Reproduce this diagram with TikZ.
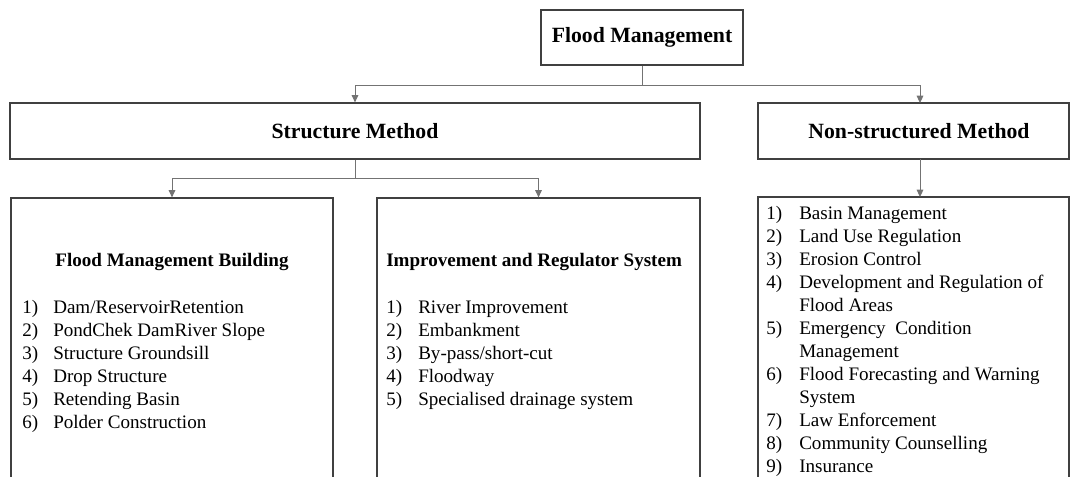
\documentclass[tikz,border=0pt]{standalone}
\usepackage{fontspec}
\setmainfont{Liberation Serif}
\usetikzlibrary{arrows.meta}
\newcommand{\hdfont}{\fontsize{16.3}{19.5}\selectfont\bfseries}
\newcommand{\bdfont}{\fontsize{14.3}{17.25}\selectfont}
\begin{document}
\begin{tikzpicture}[x=0.75pt,y=-0.75pt,
  box/.style={draw=black!75,line width=0.9pt,inner sep=0pt},
  conn/.style={draw=black!55,line width=0.75pt},
  arr/.style={conn,-{Triangle[length=5.5pt,width=5pt]}},
  txt/.style={inner sep=0pt}]
\path[use as bounding box,clip] (0,0) rectangle (1070,476);
% boxes
\node[box,minimum width=151.5pt,minimum height=41.25pt] (fm) at (642,37.5) {\hdfont Flood Management};
\node[box,minimum width=517.5pt,minimum height=42pt] (sm) at (355,131) {\hdfont Structure Method};
\node[box,minimum width=233.25pt,minimum height=42pt] (nsbox) at (913.5,131) {};
\node[txt] (nst) at (919,131) {\hdfont Non-structured Method};
\node[box,minimum width=241.5pt,minimum height=219pt] (lb) at (172,344) {};
\node[box,minimum width=242.25pt,minimum height=219pt] (mb) at (538.5,344) {};
\node[box,minimum width=233.25pt,minimum height=219.75pt] (rb) at (913.5,343.5) {};
% titles
\node[txt,anchor=base] (lt) at (172,266) {\bdfont\bfseries Flood Management Building};
\node[txt,anchor=base west] (mt) at (386,266) {\bdfont\bfseries Improvement and Regulator System};
% lists
\node[txt,anchor=base west] (ll) at (22,313) {\bdfont\begin{tabular}[t]{@{}p{23.25pt}@{}l@{}}
1) & Dam/ReservoirRetention\\
2) & PondChek DamRiver Slope\\
3) & Structure Groundsill\\
4) & Drop Structure\\
5) & Retending Basin\\
6) & Polder Construction
\end{tabular}};
\node[txt,anchor=base west] (ml) at (386,313) {\bdfont\begin{tabular}[t]{@{}p{24pt}@{}l@{}}
1) & River Improvement\\
2) & Embankment\\
3) & By-pass/short-cut\\
4) & Floodway\\
5) & Specialised drainage system
\end{tabular}};
\node[txt,anchor=base west] (rl) at (766,219) {\bdfont\begin{tabular}[t]{@{}p{24.75pt}@{}l@{}}
1) & Basin Management\\
2) & Land Use Regulation\\
3) & Erosion Control\\
4) & Development and Regulation of\\
   & Flood Areas\\
5) & Emergency\hspace{0.5em}Condition\\
   & Management\\
6) & Flood Forecasting and Warning\\
   & System\\
7) & Law Enforcement\\
8) & Community Counselling\\
9) & Insurance
\end{tabular}};
% connectors
\coordinate (j1) at (642,85);
\coordinate (nsin) at (920,103);
\coordinate (nsout) at (920,159);
\coordinate (rbin) at (920,197);
\coordinate (j2) at (355,178);
\draw[conn] (fm.south) -- (j1);
\draw[arr] (j1) -| (sm.north);
\draw[arr] (j1) -| (nsin);
\draw[conn] (sm.south) -- (j2);
\draw[arr] (j2) -| (lb.north);
\draw[arr] (j2) -| (mb.north);
\draw[arr] (nsout) -- (rbin);
\end{tikzpicture}
\end{document}
